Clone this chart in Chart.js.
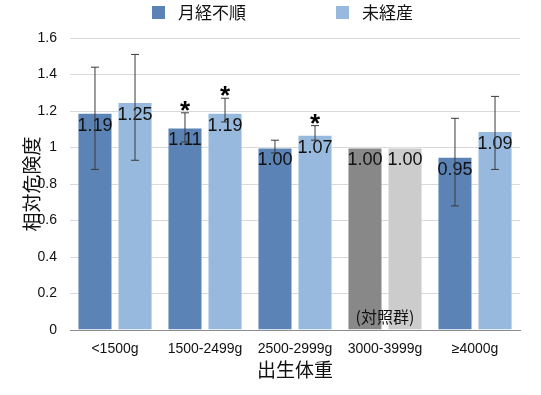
<!DOCTYPE html>
<html>
<head>
<meta charset="utf-8">
<script src="https://cdn.jsdelivr.net/npm/chart.js@4.4.1/dist/chart.umd.min.js"></script>
<style>
  html, body { margin: 0; padding: 0; background: #fff; }
  #wrap { width: 541px; height: 395px; position: relative; }
</style>
</head>
<body>
<div id="wrap"><canvas id="rrChart" width="541" height="395"></canvas></div>
<script>
// Data
const categories = ['<1500g', '1500-2499g', '2500-2999g', '3000-3999g', '≥4000g'];
const seriesNames = ['月経不順', '未経産'];
const irregular = [1.19, 1.11, 1.00, 1.00, 0.95];
const irregularLow = [0.88, 1.03, 0.97, null, 0.68];
const irregularHigh = [1.44, 1.19, 1.04, null, 1.16];
const nullipara = [1.25, 1.19, 1.07, 1.00, 1.09];
const nulliparaLow = [0.93, 1.14, 1.04, null, 0.88];
const nulliparaHigh = [1.51, 1.27, 1.12, null, 1.28];
const irregularStar = [false, true, false, false, false];
const nulliparaStar = [false, true, true, false, false];
const yTicks = [0, 0.2, 0.4, 0.6, 0.8, 1, 1.2, 1.4, 1.6];
const refIndex = 3; // 対照群

const FONT = "'Liberation Sans', Arial, 'Noto Sans CJK JP', sans-serif";
const JP_FONT = "'Noto Sans CJK JP', 'Liberation Sans', sans-serif";

const darkBlue = '#5b83b6', lightBlue = '#97b9dd';
const darkGray = '#888888', lightGray = '#cccccc';

const colorsFor = (main, ref) => categories.map((_, i) => i === refIndex ? ref : main);

const ctx = document.getElementById('rrChart').getContext('2d');

// error bars, value labels, asterisks, control label, legend
const overlay = {
    id: 'overlay',
    afterDatasetsDraw(chart) {
        const c = chart.ctx;
        const y = chart.scales.y;
        const lows = [irregularLow, nulliparaLow];
        const highs = [irregularHigh, nulliparaHigh];
        const stars = [irregularStar, nulliparaStar];
        const vals = [irregular, nullipara];

        chart.data.datasets.forEach((ds, di) => {
            const meta = chart.getDatasetMeta(di);
            meta.data.forEach((bar, i) => {
                // value label
                c.save();
                c.fillStyle = '#111';
                c.font = '18px ' + FONT;
                c.textAlign = 'center';
                c.textBaseline = 'middle';
                c.fillText(vals[di][i].toFixed(2), bar.x, bar.y + 13);
                c.restore();

                // error bar
                if (lows[di][i] != null) {
                    const yl = y.getPixelForValue(lows[di][i]);
                    const yh = y.getPixelForValue(highs[di][i]);
                    c.save();
                    c.strokeStyle = '#3a3a3a';
                    c.lineWidth = 1;
                    c.beginPath();
                    c.moveTo(bar.x, yl); c.lineTo(bar.x, yh);
                    c.moveTo(bar.x - 4, yl); c.lineTo(bar.x + 4, yl);
                    c.moveTo(bar.x - 4, yh); c.lineTo(bar.x + 4, yh);
                    c.stroke();
                    c.restore();

                    if (stars[di][i]) {
                        c.save();
                        c.fillStyle = '#000';
                        c.font = 'bold 26px ' + FONT;
                        c.textAlign = 'center';
                        c.textBaseline = 'alphabetic';
                        c.fillText('*', bar.x, yh + 6);
                        c.restore();
                    }
                }
            });
        });

        // (対照群) label
        const xs = chart.scales.x;
        c.save();
        c.fillStyle = '#111';
        c.font = '16px ' + JP_FONT;
        c.textAlign = 'center';
        c.textBaseline = 'middle';
        c.fillText('(対照群)', xs.getPixelForValue(refIndex), y.getPixelForValue(0) - 13);
        c.restore();

        // legend
        const items = [[darkBlue, seriesNames[0], 152], [lightBlue, seriesNames[1], 336]];
        c.save();
        c.font = '17px ' + JP_FONT;
        c.textBaseline = 'middle';
        items.forEach(([col, name, lx]) => {
            c.fillStyle = col;
            c.fillRect(lx, 6, 13, 13);
            c.fillStyle = '#111';
            c.fillText(name, lx + 26, 13);
        });
        c.restore();
    }
};

new Chart(ctx, {
    type: 'bar',
    data: {
        labels: categories,
        datasets: [
            {
                label: seriesNames[0],
                data: irregular,
                backgroundColor: colorsFor(darkBlue, darkGray),
                borderColor: 'rgba(255,255,255,0.35)',
                borderWidth: 1,
                categoryPercentage: 0.89,
                barPercentage: 0.875
            },
            {
                label: seriesNames[1],
                data: nullipara,
                backgroundColor: colorsFor(lightBlue, lightGray),
                borderColor: 'rgba(255,255,255,0.35)',
                borderWidth: 1,
                categoryPercentage: 0.89,
                barPercentage: 0.875
            }
        ]
    },
    options: {
        responsive: false,
        animation: false,
        layout: { padding: { top: 38, right: 21, left: 0, bottom: 0 } },
        plugins: { legend: { display: false }, tooltip: { enabled: false } },
        scales: {
            x: {
                grid: { display: false, drawTicks: false },
                border: { color: '#8c8c8c' },
                ticks: { color: '#111', font: { family: FONT, size: 14 }, padding: 11, maxRotation: 0 },
                title: { display: true, text: '出生体重', color: '#111', font: { family: JP_FONT, size: 19 }, padding: { top: 0, bottom: 14 } },
                afterFit: s => { s.height = 65; }
            },
            y: {
                min: 0,
                max: 1.6,
                afterBuildTicks: s => { s.ticks = yTicks.map(v => ({ value: v })); },
                grid: { color: '#d9d9d9', drawTicks: false },
                border: { display: false },
                ticks: { color: '#111', font: { family: FONT, size: 14 }, padding: 13, callback: v => String(v) },
                title: { display: true, text: '相対危険度', color: '#111', font: { family: JP_FONT, size: 19 }, padding: { top: 20, bottom: 0 } },
                afterFit: s => { s.width = 70; }
            }
        }
    },
    plugins: [overlay]
});
</script>
</body>
</html>
